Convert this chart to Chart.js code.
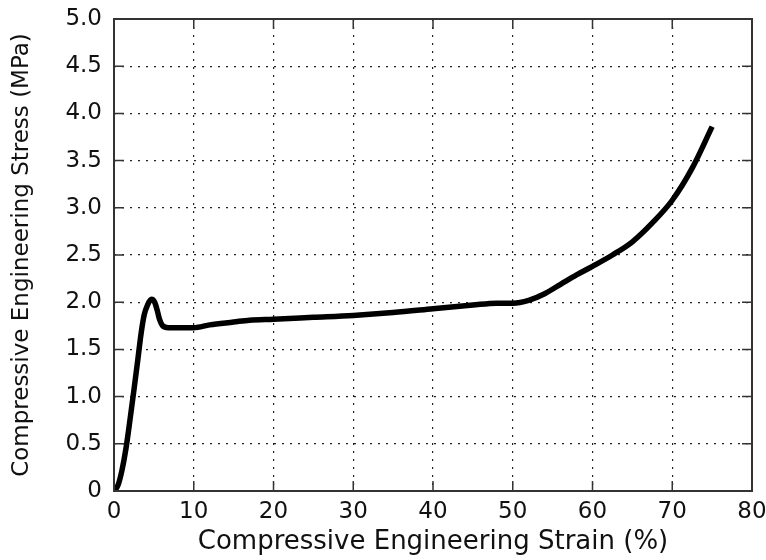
<!DOCTYPE html>
<html>
<head>
<meta charset="utf-8">
<script src="https://cdn.jsdelivr.net/npm/chart.js@4"></script>
<style>
  html, body { margin: 0; padding: 0; background: #fff; }
</style>
</head>
<body>
<canvas id="myChart" width="766" height="560"></canvas>
<script>
// compressive stress-strain curve (strain %, stress MPa)
var strain = [0, 0.5, 1.0, 1.5, 2.0, 2.5, 3.0, 3.4, 3.8, 4.2, 4.7, 5.1, 5.4, 5.7, 6.1, 6.8, 8, 10,
	12, 15, 17, 20, 25, 30, 35, 40, 45, 48, 50, 52, 54, 56, 58, 60, 62.5, 65, 67.5, 70, 72.5, 75];
var stress = [0, 0.06, 0.22, 0.45, 0.75, 1.07, 1.40, 1.67, 1.87, 1.97, 2.03, 2.00, 1.92, 1.82, 1.75, 1.73, 1.73, 1.73,
	1.76, 1.79, 1.81, 1.82, 1.84, 1.86, 1.89, 1.93, 1.97, 1.99, 1.99, 2.02, 2.09, 2.19, 2.29, 2.38, 2.50, 2.64, 2.84, 3.08, 3.42, 3.86];
var xTicks = [0, 10, 20, 30, 40, 50, 60, 70, 80];
var yTicks = [0, 0.5, 1.0, 1.5, 2.0, 2.5, 3.0, 3.5, 4.0, 4.5, 5.0];

var points = strain.map(function (s, i) { return { x: s, y: stress[i] }; });

var FONT = "'DejaVu Sans', Verdana, sans-serif";

// box around the plot plus short inward tick marks on all four sides
var frame = {
	id: 'frame',
	afterDraw: function (chart) {
		var c = chart.ctx, a = chart.chartArea;
		var xs = chart.scales.x, ys = chart.scales.y;
		c.save();
		c.strokeStyle = '#333';
		c.lineWidth = 1.5;
		c.beginPath();
		xTicks.forEach(function (v) {
			var px = xs.getPixelForValue(v);
			c.moveTo(px, a.bottom); c.lineTo(px, a.bottom - 10);
			c.moveTo(px, a.top); c.lineTo(px, a.top + 10);
		});
		yTicks.forEach(function (v) {
			var py = ys.getPixelForValue(v);
			c.moveTo(a.left, py); c.lineTo(a.left + 10, py);
			c.moveTo(a.right, py); c.lineTo(a.right - 10, py);
		});
		c.stroke();
		c.lineWidth = 2;
		c.strokeRect(a.left, a.top, a.right - a.left, a.bottom - a.top);
		c.restore();
	}
};

var ctx = document.getElementById("myChart");
var myChart = new Chart(ctx, {
	type: 'scatter',
	data: {
		datasets: [{
			data: points,
			showLine: true,
			borderColor: '#000',
			borderWidth: 5.5,
			pointRadius: 0,
			cubicInterpolationMode: 'monotone'
		}]
	},
	options: {
		responsive: false,
		animation: false,
		layout: { padding: { left: 0, top: 19, right: 14, bottom: 0 } },
		plugins: { legend: { display: false }, tooltip: { enabled: false } },
		scales: {
			x: {
				type: 'linear', min: 0, max: 80,
				afterBuildTicks: function (s) { s.ticks = xTicks.map(function (v) { return { value: v }; }); },
				afterFit: function (s) { s.height = 69; s.paddingLeft = 0; s.paddingRight = 0; },
				grid: { color: '#222', lineWidth: 1.2, drawTicks: false },
				border: { display: false, dash: [2, 6] },
				ticks: { color: '#111', font: { family: FONT, size: 23 }, padding: 7, maxRotation: 0 },
				title: { display: true, text: 'Compressive Engineering Strain (%)', color: '#111',
					font: { family: FONT, size: 26 }, padding: { top: 0, bottom: 2 } }
			},
			y: {
				type: 'linear', min: 0, max: 5,
				afterBuildTicks: function (s) { s.ticks = yTicks.map(function (v) { return { value: v }; }); },
				afterFit: function (s) { s.width = 114; s.paddingTop = 0; s.paddingBottom = 0; },
				grid: { color: '#222', lineWidth: 1.2, drawTicks: false },
				border: { display: false, dash: [2, 6] },
				ticks: {
					color: '#111', font: { family: FONT, size: 23 }, padding: 12,
					callback: function (v) { return v === 0 ? '0' : v.toFixed(1); }
				},
				title: { display: true, text: 'Compressive Engineering Stress (MPa)', color: '#111',
					font: { family: FONT, size: 23 }, padding: { top: 8, bottom: 0 } }
			}
		}
	},
	plugins: [frame]
});
</script>
</body>
</html>
